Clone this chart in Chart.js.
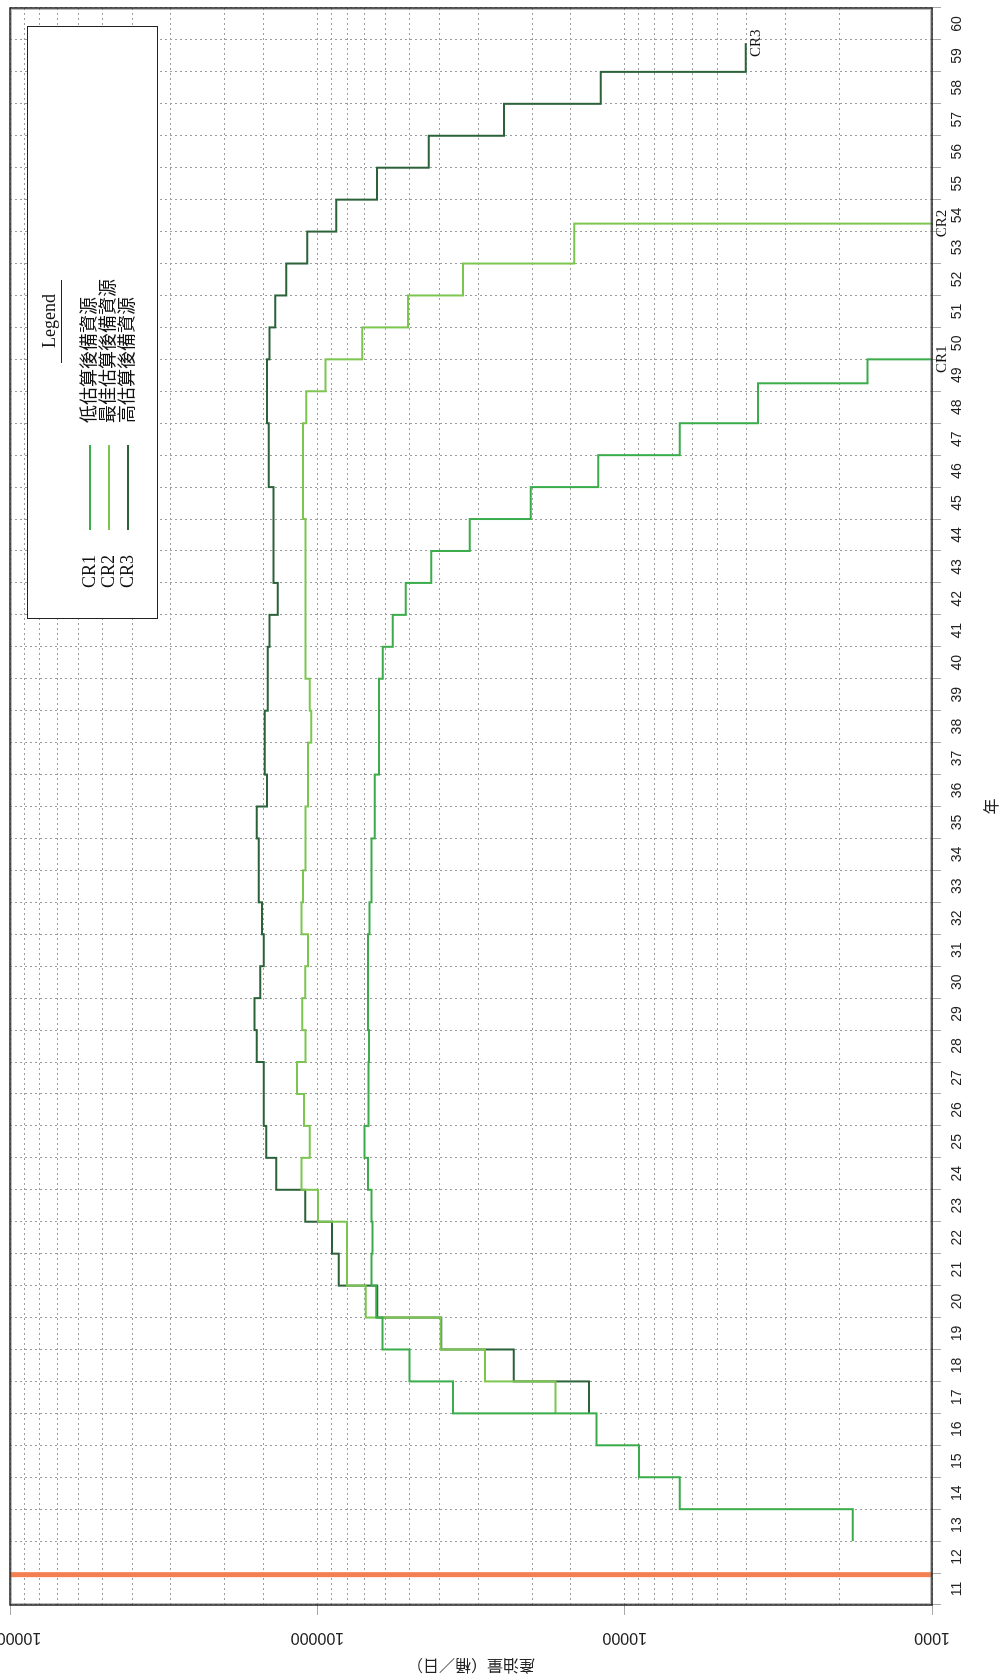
<!DOCTYPE html>
<html>
<head>
<meta charset="utf-8">
<script src="https://cdn.jsdelivr.net/npm/chart.js@4.4.0/dist/chart.umd.min.js"></script>
<style>
  html, body { margin: 0; padding: 0; background: #fff; width: 1005px; height: 1680px; overflow: hidden; }
  /* the chart is drawn landscape and turned a quarter left, like the scanned figure */
  #wrap { position: absolute; left: 0; top: 1680px; width: 1680px; height: 1005px;
          transform-origin: 0 0; transform: rotate(-90deg); background: #fff; }
</style>
</head>
<body>
<div id="wrap"><canvas id="chart" width="1680" height="1005"></canvas></div>
<script>
// year at which each yearly step begins, and the rate (bbl/day) held over that year
const cr1Years  = [13, 14, 15, 16, 17, 18, 19, 20, 21, 22, 23, 24, 25, 26, 27, 28, 29, 30, 31,
                   32, 33, 34, 35, 36, 37, 38, 39, 40, 41, 42, 43, 44, 45, 46, 47, 48, 49.25, 50];
const cr1Values = [1810, 6620, 8990, 12360, 36200, 50100, 61400, 64300, 66600, 66200, 66600,
                   68400, 70200, 68100, 68100, 67900, 68400, 68400, 68400, 67700, 66700, 66700,
                   65100, 65100, 63000, 63000, 63000, 61200, 56800, 51600, 42600, 31900, 20200,
                   12200, 6620, 3680, 1620, 1000];

const cr2Years  = [17, 18, 19, 20, 21, 22, 23, 24, 25, 26, 27, 28, 29, 30, 31, 32, 33, 34, 35,
                   36, 37, 38, 39, 40, 41, 42, 43, 44, 45, 46, 47, 48, 49, 50, 51, 52, 53, 54.25];
const cr2Values = [16800, 28500, 39700, 69600, 80100, 80100, 99500, 112700, 105900, 110600,
                   116500, 109200, 111900, 109400, 107300, 112700, 111400, 109200, 109200,
                   107300, 107300, 104600, 105900, 109200, 109200, 109200, 109200, 109200,
                   111400, 111400, 111400, 108600, 94000, 71400, 50700, 33600, 14600, 1000];

const cr3Years  = [17, 18, 19, 20, 21, 22, 23, 24, 25, 26, 27, 28, 29, 30, 31, 32, 33, 34, 35,
                   36, 37, 38, 39, 40, 41, 42, 43, 44, 45, 46, 47, 48, 49, 50, 51, 52, 53, 54,
                   55, 56, 57, 58, 59, 59.9];
const cr3Values = [13070, 22970, 39490, 63790, 85230, 89650, 109400, 136000, 146600, 149500,
                   149500, 157300, 160000, 153300, 149500, 151500, 155200, 155200, 157300,
                   145900, 148400, 148400, 145100, 145100, 143000, 134400, 138800, 138800,
                   138800, 144000, 144000, 145900, 145900, 143000, 137000, 126200, 107800,
                   86750, 63970, 43430, 24710, 11970, 4040, 4040];

const seriesNames  = ["CR1", "CR2", "CR3"];
const legendLabels = ["低估算後備資源", "最佳估算後備資源", "高估算後備資源"];
const seriesColors = ["#3aac4a", "#7cc650", "#2b623a"];

const markerYear = 11.95;            // orange reference line
const yearMin = 11, yearMax = 61;
const rateMin = 1000, rateMax = 1000000;

const toPoints = (xs, ys) => xs.map((x, i) => ({ x: x, y: ys[i] }));
const seriesData = [toPoints(cr1Years, cr1Values), toPoints(cr2Years, cr2Values), toPoints(cr3Years, cr3Values)];

const isDecade = v => {
  const e = Math.log10(v);
  return Math.abs(e - Math.round(e)) < 1e-6;
};

const serif = '"Liberation Serif", "Noto Sans CJK TC", serif';
const sans = '"Liberation Sans", Arial, sans-serif';
const cjk = '"Noto Sans CJK TC", sans-serif';

// plot frame with the dotted ruler edge
const framePlugin = {
  id: "frame",
  afterDatasetsDraw(chart) {
    const { ctx, chartArea: a } = chart;
    ctx.save();
    ctx.strokeStyle = "#222";
    ctx.lineWidth = 1.5;
    ctx.strokeRect(a.left, a.top, a.right - a.left, a.bottom - a.top);
    ctx.strokeStyle = "#777";
    ctx.lineWidth = 1;
    ctx.setLineDash([1, 1]);
    ctx.strokeRect(a.left + 1.5, a.top + 1.5, a.right - a.left - 3, a.bottom - a.top - 3);
    ctx.restore();
  }
};

// CR1 / CR2 / CR3 tags at the end of each curve
const endLabelPlugin = {
  id: "endLabels",
  afterDraw(chart) {
    const { ctx, scales: { x, y } } = chart;
    ctx.save();
    ctx.font = "15px " + serif;
    ctx.fillStyle = "#111";
    ctx.textAlign = "center";
    ctx.textBaseline = "top";
    seriesData.forEach((pts, i) => {
      const last = pts[pts.length - 1];
      ctx.fillText(seriesNames[i], x.getPixelForValue(last.x), y.getPixelForValue(last.y) + 3);
    });
    ctx.restore();
  }
};

const legendPlugin = {
  id: "legendBox",
  afterDraw(chart) {
    const ctx = chart.ctx;
    ctx.save();
    ctx.fillStyle = "#fff";
    ctx.fillRect(1061, 27, 593, 130);
    ctx.strokeStyle = "#222";
    ctx.lineWidth = 1;
    ctx.strokeRect(1061.5, 27.5, 592, 130);

    ctx.fillStyle = "#111";
    ctx.font = "18px " + serif;
    ctx.textAlign = "center";
    ctx.textBaseline = "middle";
    ctx.fillText("Legend", 1359, 50);
    ctx.beginPath();
    ctx.moveTo(1317, 61.5);
    ctx.lineTo(1400, 61.5);
    ctx.stroke();

    const rows = [90, 109, 128];
    ctx.textAlign = "left";
    rows.forEach((ry, i) => {
      ctx.fillStyle = "#111";
      ctx.fillText(seriesNames[i], 1092, ry);
      ctx.fillText(legendLabels[i], 1257, ry);
      ctx.strokeStyle = seriesColors[i];
      ctx.lineWidth = 2;
      ctx.beginPath();
      ctx.moveTo(1150, ry);
      ctx.lineTo(1235, ry);
      ctx.stroke();
    });
    ctx.restore();
  }
};

const datasets = seriesData.map((pts, i) => ({
  label: seriesNames[i],
  data: pts,
  borderColor: seriesColors[i],
  borderWidth: 2,
  pointRadius: 0,
  stepped: true,
  fill: false
}));
datasets.push({
  label: "marker",
  data: [{ x: markerYear, y: rateMin }, { x: markerYear, y: rateMax }],
  borderColor: "#f47f52",
  borderWidth: 5,
  pointRadius: 0
});

new Chart(document.getElementById("chart").getContext("2d"), {
  type: "line",
  data: { datasets: datasets },
  options: {
    responsive: false,
    animation: false,
    layout: { padding: { top: 10, right: 5, left: 0, bottom: 0 } },
    plugins: {
      legend: { display: false },
      tooltip: { enabled: false }
    },
    scales: {
      x: {
        type: "linear",
        position: "bottom",
        min: yearMin,
        max: yearMax,
        afterFit: s => { s.height = 73; },
        ticks: {
          stepSize: 1,
          autoSkip: false,
          maxRotation: 0,
          labelOffset: 16,
          padding: 8,
          color: "#222",
          font: { family: sans, size: 14 },
          callback: v => (v < yearMax ? String(v) : "")
        },
        grid: { color: "#9c9c9c", lineWidth: 1, tickLength: 9, tickColor: "#a8a8a8" },
        border: { display: false, dash: [2, 3] },
        title: { display: true, text: "年", color: "#222", font: { family: cjk, size: 16 }, padding: { top: 4, bottom: 4 } }
      },
      y: {
        type: "logarithmic",
        position: "left",
        min: rateMin,
        max: rateMax,
        afterFit: s => { s.width = 75; },
        ticks: {
          autoSkip: false,
          minRotation: 90,
          maxRotation: 90,
          crossAlign: "center",
          padding: -9,
          color: "#222",
          font: { family: sans, size: 16 },
          callback: v => (isDecade(v) ? String(Math.round(v)) : "")
        },
        grid: {
          color: "#9c9c9c",
          lineWidth: 1,
          tickLength: 10,
          tickColor: c => (c.tick && isDecade(c.tick.value) ? "#a8a8a8" : "rgba(0,0,0,0)")
        },
        border: { display: false, dash: [2, 3] },
        title: { display: true, text: "產油量（桶／日）", color: "#222", font: { family: cjk, size: 16 }, padding: { top: 4, bottom: 4 } }
      }
    }
  },
  plugins: [framePlugin, endLabelPlugin, legendPlugin]
});
</script>
</body>
</html>
